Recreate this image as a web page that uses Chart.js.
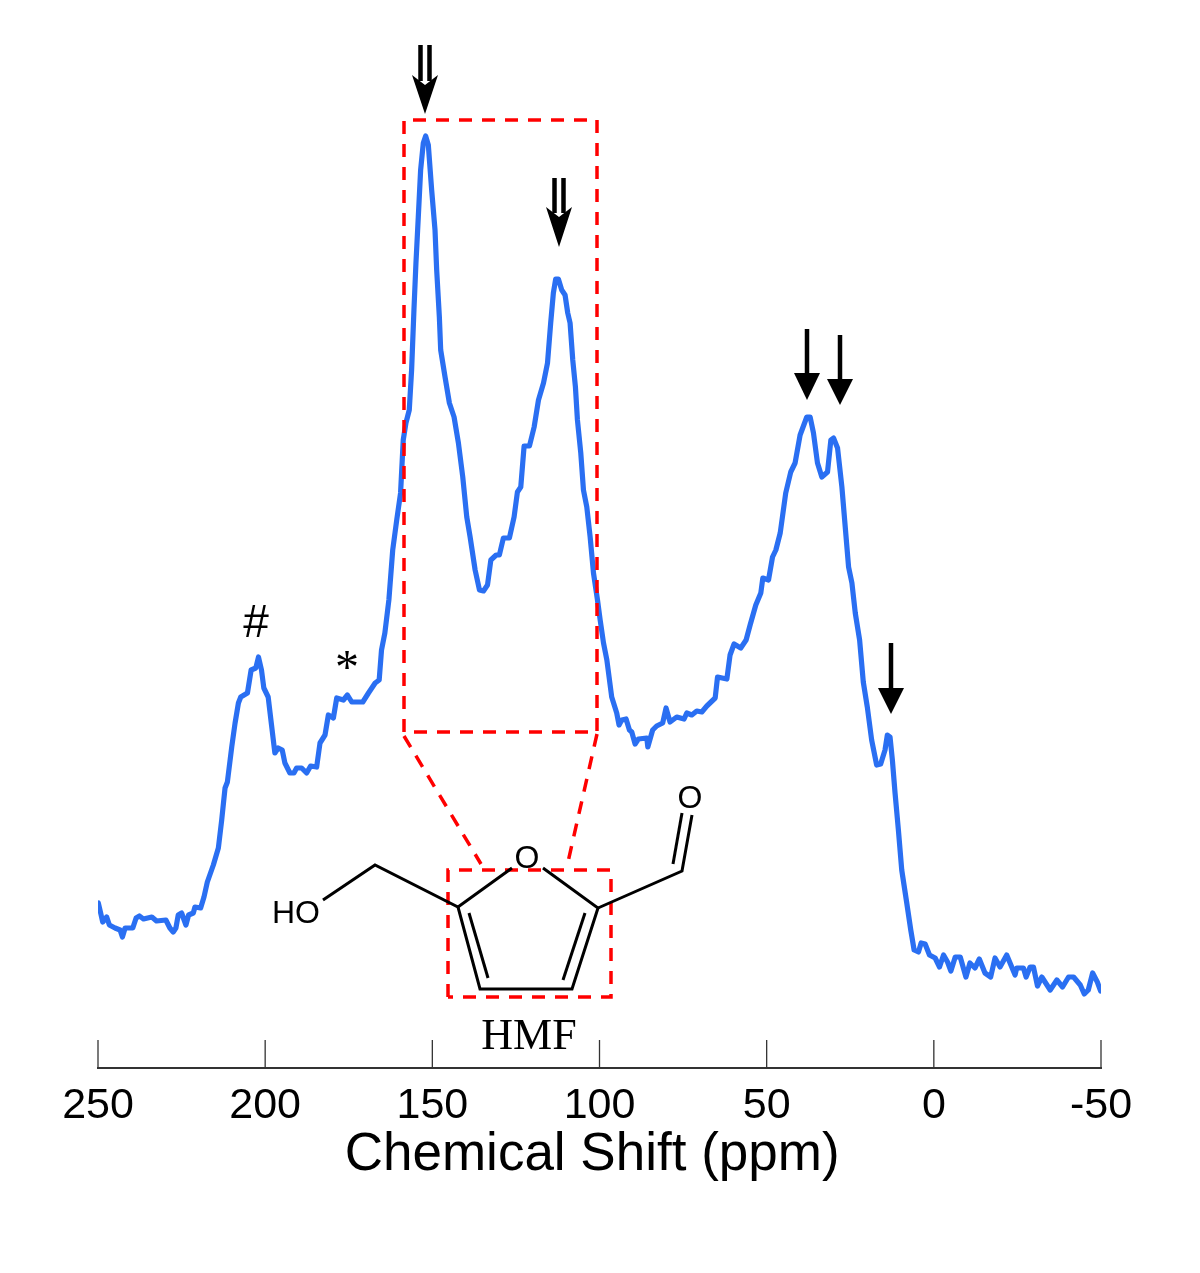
<!DOCTYPE html>
<html>
<head>
<meta charset="utf-8">
<title>HMF NMR spectrum</title>
<script src="https://cdn.jsdelivr.net/npm/chart.js@4"></script>
<style>
    html, body { margin: 0; padding: 0; background: #fff; }
    canvas { display: block; }
</style>
</head>
<body>
<canvas id="spectrum" width="1200" height="1273"></canvas>
<script>
// Values. Intensity has no unit in the figure.
const shiftPpm = [
    249.9, 249.2, 248.6, 247.4, 246.6, 244.9, 243.4, 242.7, 241.9, 239.6, 238.6, 237.6, 236.4, 233.9, 232.5, 229.7,
    228.5, 227.5, 226.7, 226.0, 225.0, 223.7, 222.9, 221.5, 221.0, 219.3, 218.3, 217.3, 215.5, 214.0, 213.0, 212.0,
    211.3, 210.0, 209.0, 208.0, 207.3, 205.3, 204.2, 202.8, 202.0, 201.1, 200.4, 199.1, 198.1, 197.1, 196.1, 194.9,
    194.1, 192.6, 191.4, 190.6, 189.1, 187.6, 186.4, 184.6, 183.6, 182.1, 181.1, 179.6, 178.6, 176.6, 175.4, 174.1,
    170.8, 169.1, 167.1, 165.9, 165.2, 164.2, 163.0, 161.85, 160.65, 159.5, 158.7, 157.9, 156.9, 156.2, 155.5, 154.9,
    154.2, 153.5, 152.7, 152.0, 151.2, 150.2, 149.2, 148.7, 147.9, 147.5, 146.2, 144.9, 143.5, 142.2, 140.9, 139.7,
    138.7, 137.2, 135.9, 134.7, 133.5, 132.5, 130.9, 129.95, 128.75, 126.95, 125.55, 124.55, 123.55, 122.55, 120.95, 119.55,
    118.25, 116.75, 115.55, 114.6, 113.8, 113.1, 112.3, 111.3, 110.3, 109.5, 108.8, 108.0, 107.2, 106.6, 105.6, 104.8,
    103.8, 102.8, 101.8, 100.6, 99.8, 98.8, 97.8, 96.35, 94.85, 94.15, 93.35, 92.05, 91.05, 90.35, 89.35, 88.35,
    85.85, 85.55, 84.1, 82.9, 81.1, 80.1, 78.9, 76.9, 74.7, 73.9, 72.4, 70.9, 69.4, 67.9, 65.4, 64.7,
    61.9, 60.95, 59.75, 57.75, 56.15, 54.95, 53.25, 51.75, 51.15, 49.45, 48.25, 47.25, 45.95, 44.3, 42.8, 41.5,
    40.0, 38.0, 37.0, 36.0, 34.8, 33.5, 31.8, 30.8, 30.0, 28.8, 27.5, 26.5, 25.5, 24.5, 23.5, 22.2,
    21.1, 19.9, 18.6, 17.1, 15.9, 14.6, 13.9, 13.1, 12.4, 11.6, 10.6, 9.6, 8.1, 6.9, 5.9, 4.6,
    3.8, 2.6, 1.3, -0.4, -1.7, -2.9, -4.1, -5.1, -6.4, -7.9, -9.6, -10.8, -12.3, -13.6, -15.3, -17.0,
    -18.3, -19.8, -21.8, -24.3, -24.8, -26.8, -27.6, -28.8, -29.8, -31.0, -32.3, -34.8, -36.8, -38.5, -40.3, -41.8,
    -43.8, -45.0, -46.2, -47.5, -48.9, -49.9
];
const intensity = [
    165, 155, 146, 151, 143, 140, 138, 131, 140, 140, 150, 152, 149, 151, 147, 148,
    140, 136, 140, 153, 155, 143, 153, 155, 161, 160, 171, 186, 203, 220, 248, 280,
    286, 321, 345, 365, 371, 375, 398, 400, 411, 398, 380, 371, 343, 315, 320, 318,
    305, 295, 295, 300, 300, 295, 302, 301, 325, 333, 353, 350, 370, 368, 373, 366,
    366, 375, 385, 388, 418, 435, 468, 518, 548, 575, 628, 645, 658, 698, 758, 805,
    851, 898, 925, 932, 923, 878, 838, 798, 751, 718, 691, 665, 651, 625, 591, 551,
    531, 498, 478, 477, 483, 508, 513, 513, 530, 530, 551, 576, 581, 622, 622, 641,
    668, 685, 705, 745, 775, 789, 789, 778, 773, 755, 745, 708, 681, 648, 615, 578,
    561, 531, 495, 468, 448, 425, 408, 371, 355, 343, 348, 349, 338, 336, 324, 329,
    330, 321, 338, 342, 345, 360, 346, 351, 349, 355, 353, 357, 356, 362, 370, 391,
    389, 413, 424, 420, 428, 443, 463, 475, 490, 488, 511, 518, 535, 575, 596, 605,
    633, 651, 651, 635, 605, 591, 596, 628, 630, 620, 581, 541, 501, 485, 455, 428,
    386, 361, 328, 303, 304, 318, 333, 331, 308, 275, 238, 198, 165, 138, 118, 116,
    125, 124, 113, 110, 101, 113, 106, 97, 111, 111, 91, 105, 100, 109, 95, 91,
    110, 101, 113, 93, 100, 100, 91, 101, 101, 82, 91, 78, 88, 81, 91, 91,
    83, 74, 78, 95, 86, 77
];
const axisTitle = 'Chemical Shift (ppm) ';

function line(ctx, points) {
    ctx.beginPath();
    points.forEach((p, i) => i ? ctx.lineTo(p[0], p[1]) : ctx.moveTo(p[0], p[1]));
    ctx.stroke();
}

// Short ticks on the inner side of the axis
const innerTicks = {
    id: 'innerTicks',
    afterDraw(chart) {
        const ctx = chart.ctx, scale = chart.scales.x, bottom = chart.chartArea.bottom;
        ctx.save();
        ctx.strokeStyle = '#333';
        ctx.lineWidth = 1.3;
        scale.ticks.forEach(t => {
            const x = scale.getPixelForValue(t.value);
            line(ctx, [[x, bottom - 28], [x, bottom]]);
        });
        ctx.restore();
    }
};

function arrowHead(ctx, cx, top, bottom, notch) {
    ctx.beginPath();
    ctx.moveTo(cx, bottom);
    ctx.lineTo(cx - 13, top);
    ctx.lineTo(cx, top + notch);
    ctx.lineTo(cx + 13, top);
    ctx.closePath();
    ctx.fill();
}

// Arrows, labels, zoom boxes and the molecule sketched on top of the spectrum
const annotations = {
    id: 'annotations',
    afterDatasetsDraw(chart) {
        const ctx = chart.ctx;
        ctx.save();

        // red dashed boxes
        ctx.strokeStyle = '#f00';
        ctx.lineWidth = 3.5;
        ctx.setLineDash([13, 10]);
        line(ctx, [[404, 732], [404, 120], [597, 120], [597, 732], [404, 732]]);
        line(ctx, [[404, 736], [481, 864]]);
        line(ctx, [[597, 734], [568, 862]]);
        line(ctx, [[448, 997], [448, 870], [611, 870], [611, 997], [448, 997]]);
        ctx.setLineDash([]);

        // arrows
        ctx.fillStyle = '#000';
        ctx.strokeStyle = '#000';
        ctx.lineWidth = 4.5;
        [[807, 329, 373, 400], [840, 335, 379, 405], [891, 643, 688, 714]].forEach(a => {
            line(ctx, [[a[0], a[1]], [a[0], a[2] + 4]]);
            arrowHead(ctx, a[0], a[2], a[3], 0);
        });
        [[425, 45, 75, 114], [559, 178, 207, 247]].forEach(a => {
            line(ctx, [[a[0] - 4.5, a[1]], [a[0] - 4.5, a[2] + 6]]);
            line(ctx, [[a[0] + 4.5, a[1]], [a[0] + 4.5, a[2] + 6]]);
            arrowHead(ctx, a[0], a[2], a[3], 10);
        });

        // molecule bonds
        ctx.lineWidth = 3;
        line(ctx, [[323, 900], [375, 865], [458, 907], [512, 868]]);
        line(ctx, [[543, 868], [598, 908], [572, 989], [480, 989], [458, 907]]);
        line(ctx, [[469, 913], [488, 978]]);
        line(ctx, [[585, 913], [563, 980]]);
        line(ctx, [[598, 908], [682, 871], [692, 815]]);
        line(ctx, [[673, 864], [682, 813]]);

        // labels
        ctx.textAlign = 'center';
        ctx.textBaseline = 'alphabetic';
        ctx.font = '32px "Liberation Sans"';
        ctx.fillText('HO', 296, 923);
        ctx.fillText('O', 527, 868);
        ctx.fillText('O', 690, 808);
        ctx.font = '44px "Liberation Serif"';
        ctx.fillText('HMF', 529, 1049);
        ctx.font = '46px "Liberation Sans"';
        ctx.fillText('#', 256, 637);
        ctx.font = '48px "Liberation Serif"';
        ctx.fillText('*', 347, 683);
        ctx.restore();
    }
};

new Chart(document.getElementById('spectrum').getContext('2d'), {
    type: 'line',
    data: {
        datasets: [{
            data: shiftPpm.map((ppm, i) => ({ x: ppm, y: intensity[i] })),
            borderColor: '#2a6ff2',
            borderWidth: 5.2,
            pointRadius: 0,
            tension: 0,
            borderJoinStyle: 'round',
            borderCapStyle: 'round'
        }]
    },
    options: {
        responsive: false,
        animation: false,
        devicePixelRatio: 1,
        layout: { padding: { left: 98, right: 99, top: 68, bottom: 0 } },
        plugins: { legend: { display: false }, tooltip: { enabled: false } },
        scales: {
            x: {
                type: 'linear',
                reverse: true,
                min: -50,
                max: 250,
                afterFit(scale) {
                    scale.height = 205;
                    scale.paddingLeft = 0;
                    scale.paddingRight = 0;
                },
                border: { color: '#333', width: 2 },
                grid: { display: false, drawTicks: false },
                ticks: {
                    stepSize: 50,
                    maxRotation: 0,
                    autoSkip: false,
                    color: '#000',
                    padding: 12,
                    font: { family: '"Liberation Sans"', size: 43 }
                },
                title: {
                    display: true,
                    text: axisTitle,
                    color: '#000',
                    font: { family: '"Liberation Sans"', size: 53 },
                    padding: { top: 0, bottom: 86 }
                }
            },
            y: { display: false, min: 0, max: 1000 }
        }
    },
    plugins: [innerTicks, annotations]
});
</script>
</body>
</html>
